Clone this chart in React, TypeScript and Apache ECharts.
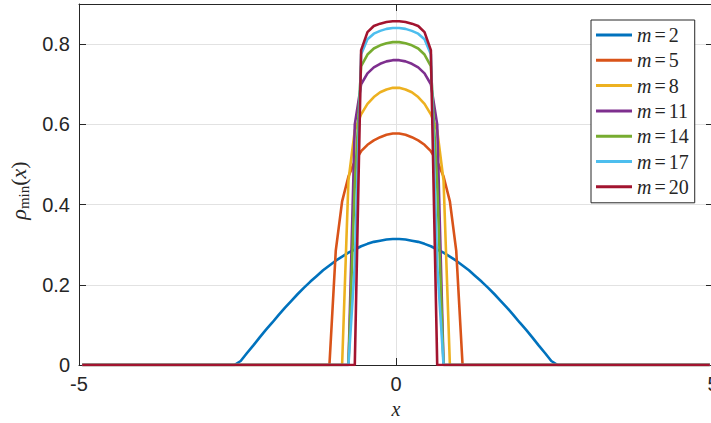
import React, { useEffect, useRef } from "react";
import * as echarts from "echarts";

// x positions (cell centres) of the positive half of the grid; curves are symmetric
const halfX = [
  0.05, 0.15, 0.25, 0.35, 0.45, 0.55, 0.65, 0.75, 0.85, 0.95, 1.05, 1.15, 1.25,
  1.35, 1.45, 1.55, 1.65, 1.75, 1.85, 1.95, 2.05, 2.15, 2.25, 2.35, 2.45, 2.55,
];
const X_FIRST = -4.95;
const X_LAST = 4.95;

const seriesNames = ["m=2", "m=5", "m=8", "m=11", "m=14", "m=17", "m=20"];
const seriesColors = ["#0072BD", "#D95319", "#EDB120", "#7E2F8E", "#77AC30", "#4DBEEE", "#A2142F"];

// rho_min values at halfX[0], halfX[1], ... (last value before the support ends)
const m2 = [
  0.314, 0.313, 0.31, 0.307, 0.302, 0.296, 0.288, 0.28, 0.27, 0.26, 0.248, 0.236, 0.222,
  0.208, 0.193, 0.177, 0.16, 0.143, 0.125, 0.106, 0.088, 0.069, 0.049, 0.03, 0.01,
];
const m5 = [0.577, 0.574, 0.568, 0.56, 0.549, 0.533, 0.508, 0.47, 0.408, 0.285];
const m8 = [0.691, 0.687, 0.68, 0.668, 0.651, 0.625, 0.585, 0.46];
const m11 = [0.76, 0.757, 0.751, 0.742, 0.727, 0.7, 0.6];
const m14 = [0.805, 0.802, 0.797, 0.789, 0.774, 0.745, 0.45];
const m17 = [0.84, 0.838, 0.833, 0.826, 0.812, 0.775, 0.25];
const m20 = [0.857, 0.855, 0.851, 0.845, 0.83, 0.785];

const seriesValues = [m2, m5, m8, m11, m14, m17, m20];

const yTicks = { min: 0, max: 0.9, interval: 0.2 };
const xTicks = { min: -5, max: 5, interval: 5 };

function buildData(vals: number[]): number[][] {
  const n = vals.length;
  const zx = halfX[n];
  const left = vals.map((v, i) => [-halfX[i], v]).reverse();
  const right = vals.map((v, i) => [halfX[i], v]);
  return [[X_FIRST, 0], [-zx, 0], ...left, ...right, [zx, 0], [X_LAST, 0]];
}

const AX = "#262626";
const GRID = "#e2e2e2";

export default function App() {
  const ref = useRef<HTMLDivElement>(null);
  useEffect(() => {
    if (!ref.current) return;
    const chart = echarts.init(ref.current, null, { renderer: "svg" });
    const tickStyle = { inside: true, length: 7, lineStyle: { color: AX, width: 1 } };
    const lineStyle = { show: true, onZero: false, lineStyle: { color: AX, width: 1 } };
    const serifRich = {
      i: { fontFamily: "Liberation Serif", fontStyle: "italic", fontSize: 20, color: AX, lineHeight: 20 },
      e: { fontFamily: "Liberation Serif", fontSize: 20, color: AX, padding: [0, 3], lineHeight: 20 },
      r: { fontFamily: "Liberation Serif", fontSize: 20, color: AX, lineHeight: 20 },
    };
    chart.setOption({
      animation: false,
      backgroundColor: "#ffffff",
      grid: {
        left: 79,
        top: 4,
        width: 634,
        height: 361,
        containLabel: false,
        outerBoundsMode: "none",
      },
      xAxis: [
        {
          type: "value",
          ...xTicks,
          position: "bottom",
          axisLine: lineStyle,
          axisTick: tickStyle,
          axisLabel: { fontSize: 20, fontFamily: "Liberation Sans", color: AX, margin: 9 },
          splitLine: { show: true, lineStyle: { color: GRID, width: 1 } },
          name: "x",
          nameLocation: "middle",
          nameGap: 33,
          nameTextStyle: { fontFamily: "Liberation Serif", fontStyle: "italic", fontSize: 20, color: AX },
        },
        {
          type: "value",
          ...xTicks,
          position: "top",
          axisLine: lineStyle,
          axisTick: tickStyle,
          axisLabel: { show: false },
          splitLine: { show: false },
        },
      ],
      yAxis: [
        {
          type: "value",
          ...yTicks,
          position: "left",
          axisLine: lineStyle,
          axisTick: tickStyle,
          axisLabel: {
            fontSize: 20,
            fontFamily: "Liberation Sans",
            color: AX,
            margin: 9,
            showMaxLabel: false,
          },
          splitLine: { show: true, lineStyle: { color: GRID, width: 1 } },
          name: "{i|ρ}{s|min}{r|(}{i|x}{r|)}",
          nameLocation: "middle",
          nameGap: 36,
          nameTextStyle: {
            padding: [0, 12, 0, 0],
            rich: {
              i: { fontFamily: "Liberation Serif", fontStyle: "italic", fontSize: 22, color: AX, lineHeight: 26, verticalAlign: "middle" },
              r: { fontFamily: "Liberation Serif", fontSize: 22, color: AX, lineHeight: 26, verticalAlign: "middle" },
              s: { fontFamily: "Liberation Serif", fontSize: 15, color: AX, lineHeight: 15, verticalAlign: "bottom" },
            },
          },
        },
        {
          type: "value",
          ...yTicks,
          position: "right",
          axisLine: lineStyle,
          axisTick: tickStyle,
          axisLabel: { show: false },
          splitLine: { show: false },
        },
      ],
      legend: {
        orient: "vertical",
        left: 591,
        top: 20,
        padding: [5, 6, 6, 5],
        itemWidth: 36,
        itemHeight: 3,
        itemGap: 5.3,
        icon: "rect",
        backgroundColor: "#ffffff",
        borderColor: AX,
        borderWidth: 1,
        borderRadius: 0,
        data: seriesNames,
        formatter: (name: string) => `{i|m}{e|=}{r|${name.split("=")[1]}}`,
        textStyle: { fontSize: 20, lineHeight: 20, color: AX, rich: serifRich },
      },
      series: seriesValues.map((vals, k) => ({
        type: "line",
        name: seriesNames[k],
        xAxisIndex: 0,
        yAxisIndex: 0,
        data: buildData(vals),
        showSymbol: false,
        symbol: "none",
        color: seriesColors[k],
        lineStyle: { width: 2.6, color: seriesColors[k] },
        emphasis: { disabled: true },
      })),
    });
    return () => chart.dispose();
  }, []);
  return (
    <div
      ref={ref}
      style={{ position: "fixed", left: 0, top: 0, width: 711, height: 423, background: "#fff" }}
    />
  );
}
